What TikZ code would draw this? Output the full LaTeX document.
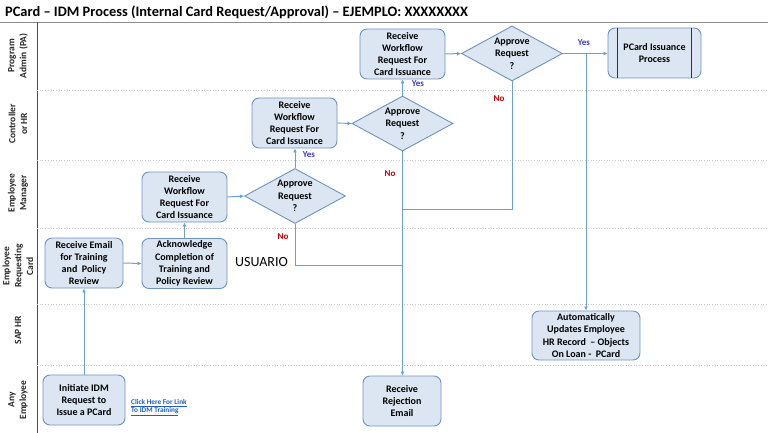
\documentclass[tikz,border=0pt]{standalone}
\usepackage{fontspec}
\setmainfont{Carlito}
\usetikzlibrary{shapes.geometric,arrows.meta}
\definecolor{boxfill}{HTML}{DCE6F2}
\definecolor{boxline}{HTML}{6F93C0}
\definecolor{conn}{HTML}{6A9FD8}
\definecolor{yesblue}{HTML}{3A3AC8}
\definecolor{nored}{HTML}{C00000}
\definecolor{lanegray}{HTML}{C8C8C8}
\definecolor{linkblue}{HTML}{1F5FBF}
\tikzset{
  procbox/.style={draw=boxline, fill=boxfill, rounded corners=7pt, line width=0.9pt,
    align=center, inner sep=1pt, font=\fontsize{10}{12.3}\selectfont\bfseries},
  decide/.style={draw=boxline, fill=boxfill, diamond, line width=0.9pt, inner sep=0pt,
    minimum width=101pt, minimum height=55pt},
  dtext/.style={align=center, font=\fontsize{10}{12.3}\selectfont\bfseries},
  flow/.style={draw=conn, line width=1pt, -{Latex[length=4pt,width=4pt]}},
  plainflow/.style={draw=conn, line width=1pt},
  yeslbl/.style={text=yesblue, font=\fontsize{9}{10}\selectfont\bfseries, inner sep=0pt},
  nolbl/.style={text=nored, font=\fontsize{9}{10}\selectfont\bfseries, inner sep=0pt},
  lanelbl/.style={rotate=90, align=center, text=black!85, font=\fontsize{9.5}{11.8}\selectfont\bfseries, inner sep=0pt},
  laneline/.style={draw=lanegray, line width=0.7pt, dotted},
}
\begin{document}
\begin{tikzpicture}[x=1pt,y=-1pt]
\useasboundingbox (0,0) rectangle (768,433);
% title
\node[anchor=base west, inner sep=0pt, font=\fontsize{14.4}{17}\selectfont\bfseries] (title) at (5,17)
  {PCard -- IDM Process (Internal Card Request/Approval) -- EJEMPLO: XXXXXXXX};
% frame lines
\draw[draw=black!45, line width=0.8pt] (0,22.5) -- (768,22.5);
\draw[draw=black!70, line width=0.8pt] (37,22.5) -- (37,433);
\foreach \yy in {90,160,228,304,365} {\draw[laneline] (37,\yy) -- (768,\yy);}
% lane labels
\node[lanelbl] (l1) at (18,56) {Program\\Admin (PA)};
\node[lanelbl] (l2) at (18,124) {Controller\\or HR};
\node[lanelbl] (l3) at (18,193) {Employee\\Manager};
\node[lanelbl] (l4) at (18,266) {Employee\\Requesting\\Card};
\node[lanelbl] (l5) at (18,330) {SAP HR};
\node[lanelbl] (l6) at (18,400) {Any\\Employee};
% nodes
\node[procbox, minimum width=82pt, minimum height=50pt] (ini) at (84,400) {Initiate IDM\\Request to\\Issue a PCard};
\node[procbox, minimum width=78pt, minimum height=50pt] (rem) at (84,263) {Receive Email\\for Training\\and~ Policy\\Review};
\node[procbox, minimum width=85pt, minimum height=50pt] (ack) at (184.5,263.5) {Acknowledge\\Completion of\\Training and\\Policy Review};
\node[procbox, minimum width=85pt, minimum height=50pt] (mgr) at (184.5,197) {Receive\\Workflow\\Request For\\Card Issuance};
\node[decide] (d1) at (295,196) {};
\node[dtext] (d1t) at (d1) {Approve\\Request\\?};
\node[procbox, minimum width=85pt, minimum height=50pt] (ctl) at (294.5,123) {Receive\\Workflow\\Request For\\Card Issuance};
\node[decide] (d2) at (402.5,123.5) {};
\node[dtext] (d2t) at (d2) {Approve\\Request\\?};
\node[procbox, minimum width=85pt, minimum height=50pt] (pa) at (402.5,54) {Receive\\Workflow\\Request For\\Card Issuance};
\node[decide] (d3) at (512,53.5) {};
\node[dtext] (d3t) at (d3) {Approve\\Request\\?};
\node[procbox, minimum width=93pt, minimum height=50pt] (pcard) at (654.5,53) {PCard Issuance\\Process};
\draw[draw=black!80, line width=1pt] ([xshift=10pt]pcard.north west) -- ([xshift=10pt]pcard.south west);
\draw[draw=black!80, line width=1pt] ([xshift=-10pt]pcard.north east) -- ([xshift=-10pt]pcard.south east);
\node[procbox, minimum width=108pt, minimum height=49pt] (auto) at (586,335.5) {Automatically\\Updates Employee\\HR Record~ -- Objects\\On Loan -~ PCard};
\node[procbox, minimum width=78pt, minimum height=50pt] (rej) at (402,401) {Receive\\Rejection\\Email};
% texts
\node[anchor=west, inner sep=0pt, font=\fontsize{14}{16}\selectfont] (usr) at (235,262) {USUARIO};
\node[anchor=north west, align=left, inner sep=0pt, text=linkblue, font=\fontsize{7.3}{8.6}\selectfont\bfseries] (lnk) at (131,399)
  {\underline{Click Here For Link}\\\underline{To IDM Training}};
% coordinates
\coordinate (j1) at (402,265);
\coordinate (j3) at (402,209);
\coordinate (br) at (586,54);
% connectors
\draw[flow] (ini.north) -- (rem.south);
\draw[flow] (rem.east) -- (ack.west);
\draw[flow] (ack.north) -- (mgr.south);
\draw[flow] (mgr.east) -- (d1.west);
\draw[flow] (d1.north) -- (d1.north |- ctl.south);
\draw[plainflow] (d1.south) |- (j1);
\draw[flow] (ctl.east) -- (d2.west);
\draw[flow] (d2.north) -- (d2.north |- pa.south);
\draw[flow] (d2.south) -- (d2.south |- rej.north);
\draw[flow] (pa.east) -- (d3.west);
\draw[flow] (d3.east) -- (d3.east -| pcard.west);
\draw[plainflow] (d3.south) |- (j3);
\draw[flow] (br) -- (auto.north);
% labels
\node[yeslbl] (y1) at (309,155) {Yes};
\node[yeslbl] (y2) at (418,84) {Yes};
\node[yeslbl] (y3) at (584,43) {Yes};
\node[nolbl] (n1) at (283,237) {No};
\node[nolbl] (n2) at (390,174) {No};
\node[nolbl] (n3) at (499,99) {No};
\end{tikzpicture}
\end{document}
